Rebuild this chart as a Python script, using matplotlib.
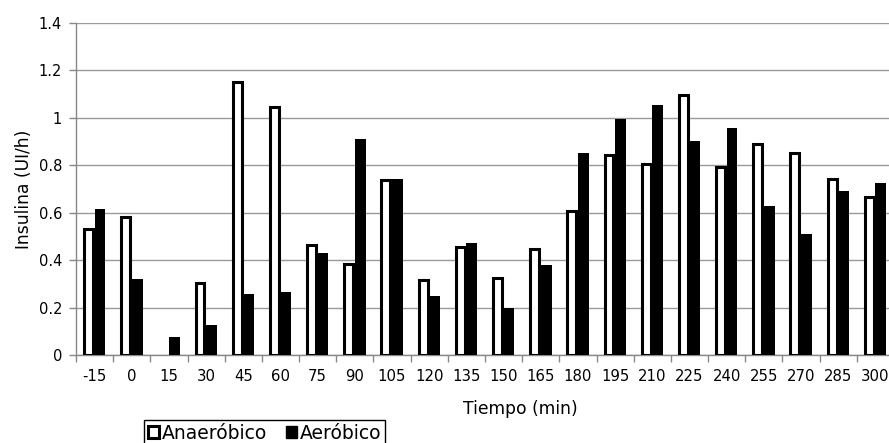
import numpy as np
import matplotlib.pyplot as plt
from matplotlib.patches import Patch

# Tiempo (min) and insulin values (nan = no bar)
tiempo = ['-15', '0', '15', '30', '45', '60', '75', '90', '105', '120', '135',
          '150', '165', '180', '195', '210', '225', '240', '255', '270', '285', '300']
anaerobico = [0.53, 0.58, np.nan, 0.305, 1.15, 1.045, 0.465, 0.383, 0.737, 0.317, 0.455,
              0.326, 0.446, 0.609, 0.844, 0.806, 1.095, 0.791, 0.891, 0.851, 0.742, 0.668]
aerobico = [0.614, 0.32, 0.075, 0.128, 0.257, 0.267, 0.43, 0.912, 0.742, 0.249, 0.472,
            0.2, 0.38, 0.852, 0.996, 1.055, 0.903, 0.956, 0.629, 0.512, 0.692, 0.725]

plt.rcParams['font.family'] = ['DejaVu Sans']

fig = plt.figure(figsize=(8.89, 4.43), dpi=100)
# axes run a little past the right edge, like the cropped original
ax = fig.add_axes([76/889, 1 - 355/443, 818/889, 332/443])

x = np.arange(len(tiempo))
ax.bar(x - 0.165, anaerobico, 0.24, color='white', edgecolor='black', linewidth=2.2, zorder=3)
ax.bar(x + 0.145, aerobico, 0.29, color='black', linewidth=0, zorder=3)

ax.set_xlim(-0.5, len(tiempo) - 0.5)
ax.set_ylim(0, 1.4)
ax.set_yticks(np.arange(0, 1.41, 0.2))
ax.set_yticklabels(['0', '0.2', '0.4', '0.6', '0.8', '1', '1.2', '1.4'])
ax.set_xticks(x)
ax.set_xticklabels(tiempo)
ax.set_xticks(np.arange(-0.5, len(tiempo), 1), minor=True)
ax.tick_params(axis='x', which='major', length=0, labelsize=10.7, pad=10)
ax.tick_params(axis='x', which='minor', length=5, color='#888888', width=1)
ax.tick_params(axis='y', length=5, color='#888888', width=1, labelsize=10.5, pad=5)

ax.grid(axis='y', color='#999999', linewidth=1, zorder=0)
for s in ['top', 'right']:
    ax.spines[s].set_visible(False)
for s in ['left', 'bottom']:
    ax.spines[s].set_color('#888888')
    ax.spines[s].set_linewidth(1)

ax.set_ylabel('Insulina (UI/h)', fontsize=12.3)
ax.yaxis.set_label_coords(-0.053, 0.5)
ax.set_xlabel('Tiempo (min)', fontsize=12.3)
ax.xaxis.set_label_coords((520 - 76) / 818, -0.135)

handles = [Patch(facecolor='white', edgecolor='black', linewidth=2.2, label='Anaeróbico'),
           Patch(facecolor='black', edgecolor='black', label='Aeróbico')]
leg = fig.legend(handles=handles, loc='upper left', bbox_to_anchor=(144/889, 1 - 420/443),
                 ncol=2, fontsize=13.5, frameon=True, fancybox=False, framealpha=1,
                 edgecolor='black', handlelength=0.6, handleheight=0.6,
                 handletextpad=0.15, columnspacing=1.0, borderpad=0.2, borderaxespad=0)
leg.get_frame().set_linewidth(1)

fig.savefig('out.png', dpi=100)
